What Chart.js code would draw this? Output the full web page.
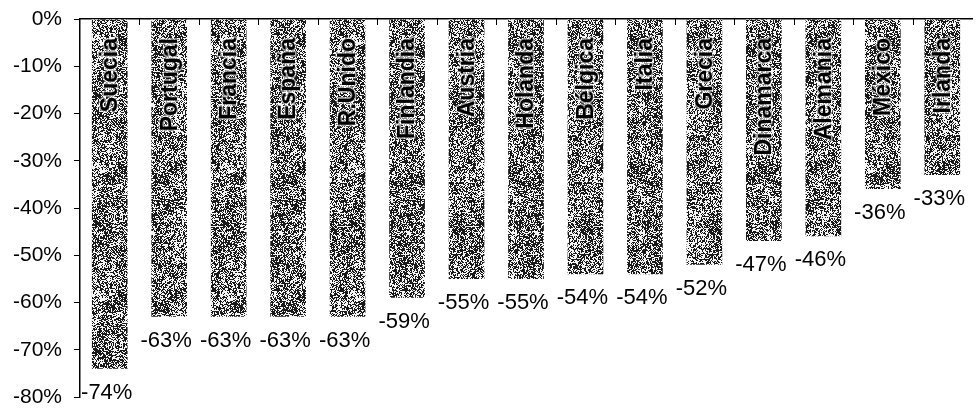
<!DOCTYPE html>
<html>
<head>
<meta charset="utf-8">
<script src="https://cdn.jsdelivr.net/npm/chart.js@4/dist/chart.umd.min.js"></script>
<style>
  html, body { margin:0; padding:0; background:#fff; }
  canvas { display:block; }
</style>
</head>
<body>
<canvas id="grafico" width="976" height="410"></canvas>
<script>
// datos
const paises = ['Suecia','Portugal','Francia','España','R.Unido','Finlandia','Austria','Holanda','Bélgica','Italia','Grecia','Dinamarca','Alemania','México','Irlanda'];
const variacion = [-74,-63,-63,-63,-63,-59,-55,-55,-54,-54,-52,-47,-46,-36,-33];
const ejeMin = -80;
const ejeMax = 0;
const ejePaso = 10;

const fuente = '"Liberation Sans", Arial, sans-serif';

// trama gris tipo fotocopia (solo estilo, no datos)
function tramado(){
  const n = 128, celda = 8, m = n / celda;
  let s = 2463534242;
  const sig = () => { s ^= s << 13; s >>>= 0; s ^= s >>> 17; s ^= s << 5; s >>>= 0; return s / 4294967296; };
  const grueso = [];
  for (let i = 0; i < m * m; i++) grueso.push(sig());
  const gv = (a, b) => grueso[((b % m + m) % m) * m + ((a % m + m) % m)];
  const c = document.createElement('canvas');
  c.width = c.height = n;
  const g = c.getContext('2d');
  const img = g.createImageData(n, n);
  for (let y = 0; y < n; y++){
    for (let x = 0; x < n; x++){
      const fx = x / celda, fy = y / celda;
      const ix = Math.floor(fx), iy = Math.floor(fy), tx = fx - ix, ty = fy - iy;
      const a = gv(ix, iy) * (1 - tx) + gv(ix + 1, iy) * tx;
      const b = gv(ix, iy + 1) * (1 - tx) + gv(ix + 1, iy + 1) * tx;
      const baja = a * (1 - ty) + b * ty;
      const v = sig() < 0.37 + 0.36 * baja ? 25 : 245;
      const i = (y * n + x) * 4;
      img.data[i] = img.data[i+1] = img.data[i+2] = v;
      img.data[i+3] = 255;
    }
  }
  g.putImageData(img, 0, 0);
  return g.createPattern(c, 'repeat');
}

// nombres dentro de las barras, valores debajo y marcas del eje superior
const rotulos = {
  id: 'rotulos',
  afterDraw(chart){
    const { ctx, chartArea, scales:{ x } } = chart;
    ctx.save();
    ctx.strokeStyle = '#000';
    ctx.lineWidth = 1;
    for (let i = 1; i < paises.length; i++){
      const px = Math.round((x.getPixelForValue(i-1) + x.getPixelForValue(i)) / 2) + 0.5;
      ctx.beginPath();
      ctx.moveTo(px, chartArea.top);
      ctx.lineTo(px, chartArea.top + 6);
      ctx.stroke();
    }
    const meta = chart.getDatasetMeta(0);
    meta.data.forEach((bar, i) => {
      ctx.save();
      ctx.translate(bar.x + 1, chartArea.top + 19);
      ctx.rotate(-Math.PI / 2);
      ctx.font = 'bold 23px ' + fuente;
      ctx.textAlign = 'right';
      ctx.textBaseline = 'middle';
      ctx.lineJoin = 'round';
      ctx.lineWidth = 3;
      ctx.strokeStyle = 'rgba(255,255,255,0.6)';
      ctx.strokeText(paises[i], 0, 0);
      ctx.fillStyle = '#000';
      ctx.fillText(paises[i], 0, 0);
      ctx.restore();

      ctx.font = '22px ' + fuente;
      ctx.textAlign = 'center';
      ctx.textBaseline = 'middle';
      ctx.fillStyle = '#000';
      ctx.fillText(variacion[i] + '%', bar.x - 3, bar.y + 24);
    });
    ctx.restore();
  }
};

new Chart(document.getElementById('grafico').getContext('2d'), {
  type: 'bar',
  data: {
    labels: paises,
    datasets: [{
      data: variacion,
      backgroundColor: tramado(),
      borderWidth: 0,
      barPercentage: 0.6,
      categoryPercentage: 1
    }]
  },
  options: {
    responsive: false,
    animation: false,
    layout: { padding: { left:0, right:4, top:0, bottom:13 } },
    plugins: { legend:{ display:false }, tooltip:{ enabled:false } },
    scales: {
      x: {
        position: 'top',
        ticks: { display:false },
        grid: { display:false },
        border: { color:'#000', width:1.5 },
        afterFit(s){ s.height = 19; }
      },
      y: {
        min: ejeMin,
        max: ejeMax,
        ticks: {
          stepSize: ejePaso,
          callback: v => v + '%',
          font: { size:21, family:fuente },
          color: '#000',
          padding: 12
        },
        grid: { drawOnChartArea:false, tickLength:6, color:'#000' },
        border: { color:'#000', width:1.5 },
        afterFit(s){ s.width = 80; s.paddingTop = 0; s.paddingBottom = 0; }
      }
    }
  },
  plugins: [rotulos]
});
</script>
</body>
</html>
